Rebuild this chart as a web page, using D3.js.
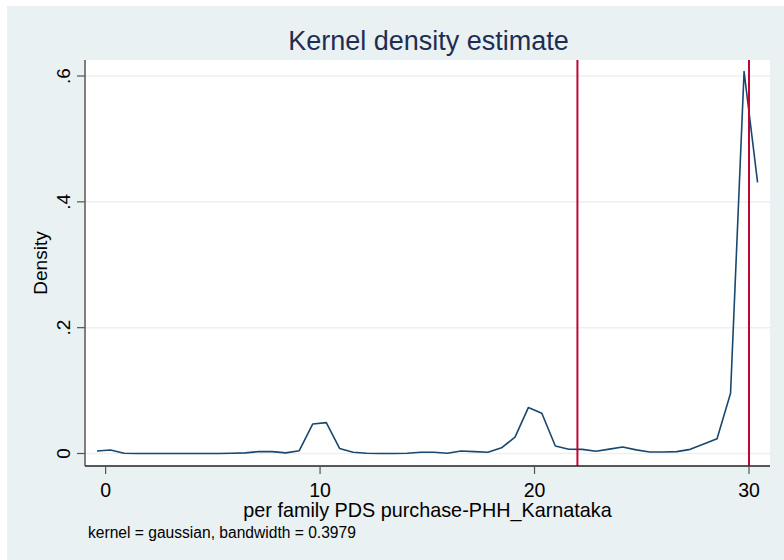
<!DOCTYPE html>
<html>
<head>
<meta charset="utf-8">
<script src="https://cdn.jsdelivr.net/npm/d3@7"></script>
<style>
  body { margin: 0; background: #fff; }
  svg { display: block; font-family: Arial, "Liberation Sans", sans-serif; }
</style>
</head>
<body>
<svg id="chart" width="784" height="560"></svg>
<script>
// kdensity evaluation points (x) and estimated density
const gridX = [-0.40, 0.23, 0.86, 1.49, 2.11, 2.74, 3.37, 4.00, 4.63, 5.26,
  5.89, 6.51, 7.14, 7.77, 8.40, 9.03, 9.66, 10.29, 10.91, 11.54,
  12.17, 12.80, 13.43, 14.06, 14.69, 15.31, 15.94, 16.57, 17.20, 17.83,
  18.46, 19.09, 19.71, 20.34, 20.97, 21.60, 22.23, 22.86, 23.49, 24.11,
  24.74, 25.37, 26.00, 26.63, 27.26, 27.89, 28.51, 29.14, 29.77, 30.40];
const density = [0.004, 0.0056, 0.0005, 0, 0, 0, 0, 0, 0, 0,
  0.0005, 0.001, 0.003, 0.003, 0.001, 0.0045, 0.047, 0.049, 0.008, 0.002,
  0.0005, 0, 0, 0.0005, 0.002, 0.002, 0.0005, 0.004, 0.003, 0.002,
  0.009, 0.026, 0.073, 0.064, 0.012, 0.0067, 0.0065, 0.0035, 0.007, 0.0103,
  0.0058, 0.0025, 0.0025, 0.003, 0.0066, 0.015, 0.0236, 0.0957, 0.607, 0.431];
const refLines = [22, 30];
const xTicks = [0, 10, 20, 30];
const yTicks = [0, 0.2, 0.4, 0.6];
const yTickLabels = ['0', '.2', '.4', '.6'];

const titleText = 'Kernel density estimate';
const xTitle = 'per family PDS purchase-PHH_Karnataka';
const yTitle = 'Density';
const note = 'kernel = gaussian, bandwidth = 0.3979';

const svg = d3.select('#chart');
const plot = {left: 85, right: 770, top: 60, bottom: 466};

const x = d3.scaleLinear().domain([0, 30]).range([105.6, 749]);
const y = d3.scaleLinear().domain([0, 0.6]).range([453.5, 76]);

// outer graph region
svg.append('rect').attr('x', 7).attr('y', 6).attr('width', 777).attr('height', 554)
  .attr('fill', '#eaf1f3');

// plot region
svg.append('rect').attr('x', plot.left).attr('y', plot.top)
  .attr('width', plot.right - plot.left).attr('height', plot.bottom - plot.top)
  .attr('fill', '#fff');

// gridlines
svg.append('g').selectAll('line').data(yTicks).enter().append('line')
  .attr('x1', plot.left).attr('x2', plot.right)
  .attr('y1', d => y(d)).attr('y2', d => y(d))
  .attr('stroke', '#eaf1f3').attr('stroke-width', 1.5);

// density curve
const line = d3.line().x((d, i) => x(gridX[i])).y(d => y(d));
svg.append('path').datum(density)
  .attr('d', line)
  .attr('fill', 'none')
  .attr('stroke', '#1a476f')
  .attr('stroke-width', 1.6)
  .attr('stroke-linejoin', 'round');

// reference lines
svg.append('g').selectAll('line').data(refLines).enter().append('line')
  .attr('x1', d => x(d)).attr('x2', d => x(d))
  .attr('y1', plot.top).attr('y2', plot.bottom)
  .attr('stroke', '#c10534').attr('stroke-width', 2);

// y axis
svg.append('line').attr('x1', plot.left).attr('x2', plot.left)
  .attr('y1', plot.top).attr('y2', plot.bottom)
  .attr('stroke', '#7f7f7f').attr('stroke-width', 2);
const yt = svg.append('g').selectAll('g').data(yTicks).enter().append('g');
yt.append('line').attr('x1', 77).attr('x2', plot.left)
  .attr('y1', d => y(d)).attr('y2', d => y(d))
  .attr('stroke', '#555').attr('stroke-width', 1.2);
yt.append('text')
  .attr('transform', d => 'translate(70,' + y(d) + ') rotate(-90)')
  .attr('text-anchor', 'middle')
  .attr('font-size', 19)
  .attr('fill', '#000')
  .text((d, i) => yTickLabels[i]);

// x axis
svg.append('line').attr('x1', plot.left).attr('x2', plot.right)
  .attr('y1', plot.bottom).attr('y2', plot.bottom)
  .attr('stroke', '#222').attr('stroke-width', 1.5);
const xt = svg.append('g').selectAll('g').data(xTicks).enter().append('g');
xt.append('line').attr('x1', d => x(d)).attr('x2', d => x(d))
  .attr('y1', plot.bottom).attr('y2', 474)
  .attr('stroke', '#555').attr('stroke-width', 1.2);
xt.append('text')
  .attr('x', d => x(d)).attr('y', 496.5)
  .attr('text-anchor', 'middle')
  .attr('font-size', 19.5)
  .attr('fill', '#000')
  .text(d => d);

// titles
svg.append('text').attr('x', (plot.left + plot.right) / 2 + 1).attr('y', 49.5)
  .attr('text-anchor', 'middle').attr('font-size', 27).attr('fill', '#1e2e52')
  .text(titleText);
svg.append('text').attr('x', (plot.left + plot.right) / 2).attr('y', 516.5)
  .attr('text-anchor', 'middle').attr('font-size', 19.8).attr('fill', '#000')
  .text(xTitle);
svg.append('text')
  .attr('transform', 'translate(46.5,' + (plot.top + plot.bottom) / 2 + ') rotate(-90)')
  .attr('text-anchor', 'middle').attr('font-size', 19).attr('fill', '#000')
  .text(yTitle);
svg.append('text').attr('x', 88).attr('y', 537.5)
  .attr('font-size', 15.6).attr('fill', '#000')
  .text(note);
</script>
</body>
</html>
